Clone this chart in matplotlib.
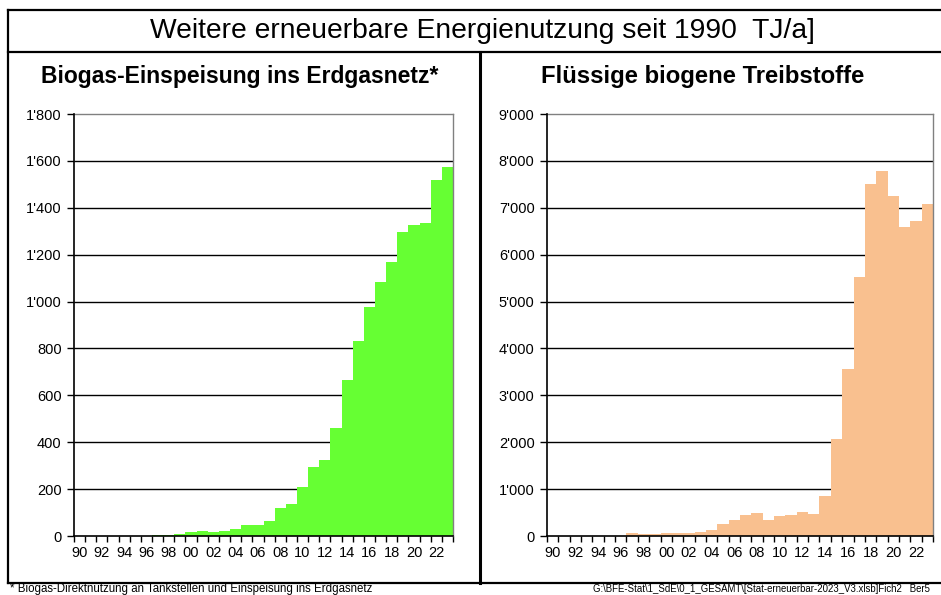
import matplotlib
matplotlib.use("Agg")
import matplotlib.pyplot as plt
from matplotlib.ticker import FuncFormatter, FixedLocator
import numpy as np

plt.rcParams['font.family'] = ['Liberation Sans', 'DejaVu Sans']

# ---- data ----
years = list(range(1990, 2024))
biogas = [0, 0, 0, 0, 0, 0, 0, 3, 6, 9, 17, 23, 17, 20, 30, 46, 49, 63, 121, 136,
          211, 293, 323, 461, 666, 830, 977, 1084, 1169, 1297, 1328, 1335, 1520, 1574]
fluessig = [0, 0, 0, 0, 0, 0, 0, 64, 43, 45, 57, 57, 57, 85, 121, 249, 342, 448, 491, 349,
            427, 448, 512, 477, 861, 2071, 3567, 5518, 7511, 7787, 7248, 6589, 6723, 7078]
main_title = "Weitere erneuerbare Energienutzung seit 1990  TJ/a]"
titles = ["Biogas-Einspeisung ins Erdgasnetz*", "Flüssige biogene Treibstoffe"]
yticks_left = [0, 200, 400, 600, 800, 1000, 1200, 1400, 1600, 1800]
yticks_right = [0, 1000, 2000, 3000, 4000, 5000, 6000, 7000, 8000, 9000]
footnote_left = "* Biogas-Direktnutzung an Tankstellen und Einspeisung ins Erdgasnetz"
footnote_right = "G:\\BFE-Stat\\1_SdE\\0_1_GESAMT\\[Stat-erneuerbar-2023_V3.xlsb]Fich2   Ber5"

W, H = 941, 595
fig = plt.figure(figsize=(W / 100, H / 100), dpi=100)

# overlay for frame lines (pixel coordinates)
ov = fig.add_axes([0, 0, 1, 1])
ov.set_xlim(0, W)
ov.set_ylim(H, 0)
ov.axis('off')
lw = 1.6
ov.plot([8, 8], [10, 582.5], color='black', lw=lw, solid_capstyle='projecting')
ov.plot([8, 950], [10, 10], color='black', lw=lw, solid_capstyle='projecting')
ov.plot([8, 950], [52, 52], color='black', lw=lw)
ov.plot([8, 950], [582.5, 582.5], color='black', lw=lw, solid_capstyle='projecting')
ov.plot([480, 480], [52, 582.5], color='black', lw=lw + 0.6)
ov.text(482, 31, main_title, ha='center', va='center', fontsize=20.3)
ov.text(240, 76, titles[0], ha='center', va='center', fontsize=16.5, fontweight='bold')
ov.text(703, 76, titles[1], ha='center', va='center', fontsize=17.2, fontweight='bold')
ov.text(10, 589.3, footnote_left, ha='left', va='center', fontsize=8.3)
ov.text(593, 589.3, footnote_right, ha='left', va='center', fontsize=6.95)


def fmt(v, pos):
    s = f"{int(round(v)):,}".replace(",", "'")
    return s


def make_panel(rect, values, yticks, color):
    ax = fig.add_axes(rect)
    x = np.arange(len(years))
    ax.bar(x, values, width=1.0, color=color, edgecolor='none', zorder=2)
    ax.set_xlim(-0.5, len(years) - 0.5)
    ax.set_ylim(yticks[0], yticks[-1])
    ax.hlines(yticks[1:-1], -0.5, len(years) - 0.5, color='black', lw=1.0, zorder=1)
    ax.set_yticks(yticks)
    ax.yaxis.set_major_formatter(FuncFormatter(fmt))
    # x: labels every second year at centres, tick marks at boundaries
    ax.xaxis.set_major_locator(FixedLocator(x[::2]))
    ax.set_xticklabels([f"{y % 100:02d}" for y in years[::2]])
    ax.xaxis.set_minor_locator(FixedLocator(np.arange(-0.5, len(years), 1.0)))
    ax.tick_params(axis='x', which='major', length=0, pad=7, labelsize=10.5)
    ax.tick_params(axis='x', which='minor', length=4, width=1, direction='out', color='black')
    ax.tick_params(axis='y', length=5, width=1, direction='out', pad=4, labelsize=10.5)
    for s in ['left', 'bottom']:
        ax.spines[s].set_color('black')
        ax.spines[s].set_linewidth(1.2)
    for s in ['top', 'right']:
        ax.spines[s].set_color('#808080')
        ax.spines[s].set_linewidth(1.0)
    ax.spines['left'].set_zorder(3)
    ax.spines['bottom'].set_zorder(3)
    return ax


make_panel([74 / W, (H - 536) / H, 379 / W, 422 / H], biogas, yticks_left, '#66FF33')
make_panel([547 / W, (H - 536) / H, 386 / W, 422 / H], fluessig, yticks_right, '#F9C08F')

fig.savefig("out.png", dpi=100)
